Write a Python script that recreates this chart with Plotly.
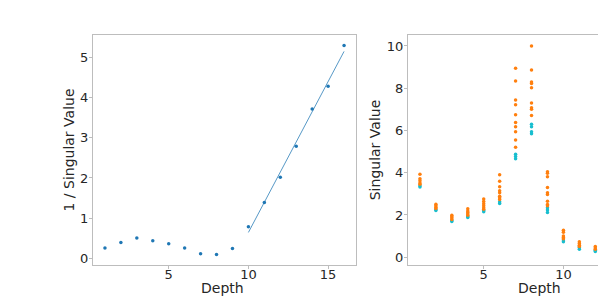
import numpy as np
import plotly.graph_objects as go

# Left panel: 1 / singular value per depth
depth_left = list(range(1, 17))
inv_sv = [0.26, 0.40, 0.51, 0.44, 0.37, 0.26, 0.12, 0.10, 0.25, 0.79,
          1.39, 2.02, 2.79, 3.71, 4.28, 5.29]

# Right panel: singular values per depth (orange = many runs, cyan = lowest ones)
orange_vals = {
    1: [3.93, 3.71, 3.62, 3.51, 3.45],
    2: [2.51, 2.43, 2.37, 2.31],
    3: [1.99, 1.91, 1.85, 1.79],
    4: [2.29, 2.19, 2.12, 2.04, 1.98],
    5: [2.75, 2.64, 2.53, 2.43, 2.34, 2.27],
    6: [3.90, 3.60, 3.33, 3.14, 3.05, 2.88, 2.81, 2.73],
    7: [8.94, 8.34, 7.44, 7.22, 6.74, 6.38, 6.18, 5.94, 5.55, 5.20],
    8: [10.0, 8.86, 8.30, 8.22, 8.02, 7.30, 7.08, 7.01, 6.71],
    9: [4.04, 3.97, 3.81, 3.30, 3.05, 2.97, 2.65, 2.50, 2.43],
    10: [1.28, 1.18, 1.00, 0.93, 0.87],
    11: [0.73, 0.65, 0.57, 0.51],
    12: [0.51, 0.44, 0.38],
}
cyan_vals = {
    1: [3.38, 3.32],
    2: [2.26, 2.21],
    3: [1.74, 1.69],
    4: [1.93, 1.88],
    5: [2.21, 2.15],
    6: [2.62, 2.54],
    7: [4.87, 4.77, 4.66],
    8: [6.29, 6.17, 5.94, 5.85],
    9: [2.34, 2.23, 2.12],
    10: [0.81, 0.73],
    11: [0.46, 0.38],
    12: [0.33, 0.27],
}

BLUE = "#1f77b4"
ORANGE = "#ff7f0e"
CYAN = "#17becf"
SPINE = "#bdbdbd"
TXT = "#262626"
FONT = "DejaVu Sans"
W, H = 598, 298

fit_x = np.array(depth_left[9:])
fit_y = np.array(inv_sv[9:])
coef = np.polyfit(fit_x, fit_y, 1)
line_x = [fit_x[0], fit_x[-1]]
line_y = [float(np.polyval(coef, v)) for v in line_x]

fig = go.Figure()
fig.add_trace(go.Scatter(x=depth_left, y=inv_sv, mode="markers",
                         marker=dict(color=BLUE, size=3.5), xaxis="x", yaxis="y",
                         showlegend=False))
fig.add_trace(go.Scatter(x=line_x, y=line_y, mode="lines",
                         line=dict(color=BLUE, width=1), opacity=0.75,
                         xaxis="x", yaxis="y", showlegend=False))

ox, oy, cx, cy = [], [], [], []
for d, vs in orange_vals.items():
    ox += [d] * len(vs)
    oy += vs
for d, vs in cyan_vals.items():
    cx += [d] * len(vs)
    cy += vs
fig.add_trace(go.Scatter(x=cx, y=cy, mode="markers",
                         marker=dict(color=CYAN, size=3.5), xaxis="x2", yaxis="y2",
                         showlegend=False))
fig.add_trace(go.Scatter(x=ox, y=oy, mode="markers",
                         marker=dict(color=ORANGE, size=3.5), xaxis="x2", yaxis="y2",
                         showlegend=False))

axis_common = dict(showgrid=False, zeroline=False, showline=True, linecolor=SPINE,
                   linewidth=1, ticks="outside", ticklen=3, tickcolor=SPINE,
                   tickfont=dict(family=FONT, size=13, color=TXT))
ytitle_font = dict(family=FONT, size=14, color=TXT)

fig.update_layout(
    width=W, height=H,
    margin=dict(l=0, r=0, t=0, b=0),
    paper_bgcolor="white", plot_bgcolor="white",
    font=dict(family=FONT, size=14, color=TXT),
    xaxis=dict(domain=[93 / W, 356 / W], range=[0.25, 16.75], mirror=True,
               tickvals=[5, 10, 15], anchor="y", ticklabelstandoff=-6, **axis_common),
    yaxis=dict(domain=[33 / H, 263 / H], range=[-0.16, 5.55], mirror=True,
               tickvals=[0, 1, 2, 3, 4, 5], anchor="x", ticklabelstandoff=-2,
               title=dict(text="1 / Singular Value", standoff=2, font=ytitle_font),
               **axis_common),
    xaxis2=dict(domain=[408 / W, 1.0], range=[0.25, 12.17], mirror=True,
                tickvals=[5, 10, 15], anchor="y2", ticklabelstandoff=-6, **axis_common),
    yaxis2=dict(domain=[33 / H, 263 / H], range=[-0.37, 10.52], mirror=False,
                tickvals=[0, 2, 4, 6, 8, 10], anchor="x2", ticklabelstandoff=-2,
                title=dict(text="Singular Value", standoff=2, font=ytitle_font),
                **axis_common),
    annotations=[
        dict(text="Depth", x=223 / W, y=(H - 288) / H, xref="paper", yref="paper",
             xanchor="center", yanchor="middle", showarrow=False,
             font=dict(family=FONT, size=14, color=TXT)),
        dict(text="Depth", x=539 / W, y=(H - 288) / H, xref="paper", yref="paper",
             xanchor="center", yanchor="middle", showarrow=False,
             font=dict(family=FONT, size=14, color=TXT)),
    ],
)

fig.write_html("out.html", config={"displayModeBar": False},
               post_script="document.body.style.margin='0';document.body.style.overflow='hidden';")
